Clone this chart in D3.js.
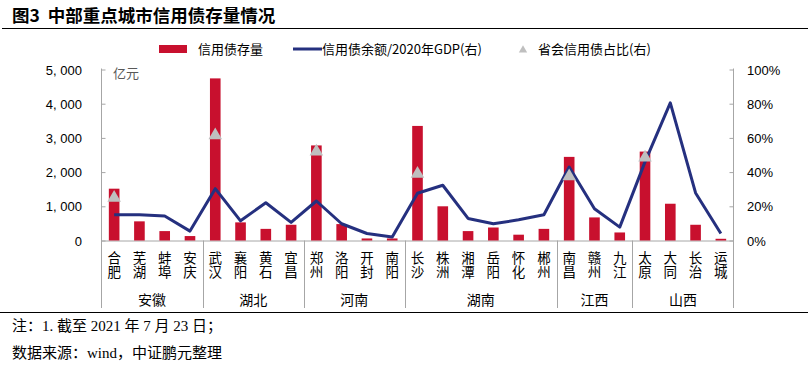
<!DOCTYPE html>
<html><head><meta charset="utf-8">
<script src="https://cdn.jsdelivr.net/npm/d3@7"></script>
<style>
body{margin:0;background:#fff;}
svg{display:block;}
</style></head>
<body>
<svg id="c" width="809" height="369"></svg>
<script>
const cities = ["合肥","芜湖","蚌埠","安庆","武汉","襄阳","黄石","宜昌","郑州","洛阳","开封","南阳","长沙","株洲","湘潭","岳阳","怀化","郴州","南昌","赣州","九江","太原","大同","长治","运城"];
const provinces = ["安徽","湖北","河南","湖南","江西","山西"];
const provinceSizes = [4,4,4,6,3,4];
const creditStock = [1515,560,275,130,4740,530,340,460,2780,480,60,60,3350,1000,275,380,170,340,2445,675,235,2600,1075,460,50];
const ratioToGDP = [0.150,0.150,0.143,0.055,0.303,0.115,0.221,0.106,0.231,0.098,0.041,0.020,0.276,0.323,0.129,0.098,0.121,0.151,0.430,0.186,0.078,0.460,0.805,0.278,0.041];
const capitalShare = [0.25,null,null,null,0.615,null,null,null,0.52,null,null,null,0.39,null,null,null,null,null,0.375,null,null,0.485,null,null,null];
const leftTicks = [0,1000,2000,3000,4000,5000];
const rightTicks = [0,0.2,0.4,0.6,0.8,1.0];

const svg = d3.select("#c");
const L = 101.5, R = 733.5, T = 69.5, B = 240.5;
const cjk = "'Noto Sans CJK SC', sans-serif";
const num = "'Liberation Sans', Arial, sans-serif";

// title
svg.append("text").attr("x",12).attr("y",22).attr("font-family",cjk).attr("font-weight","bold")
  .attr("font-size",17.5).attr("fill","#000").style("white-space","pre").text("图3  中部重点城市信用债存量情况");
svg.append("line").attr("x1",2).attr("x2",808).attr("y1",28.5).attr("y2",28.5).attr("stroke","#000").attr("stroke-width",1);
svg.append("line").attr("x1",0).attr("x2",808).attr("y1",312.5).attr("y2",312.5).attr("stroke","#000").attr("stroke-width",1);

const x = d3.scaleBand().domain(cities).range([L,R]).paddingInner(0.58).paddingOuter(0.29);
const y = d3.scaleLinear().domain([0,5000]).range([B,T]);
const y2 = d3.scaleLinear().domain([0,1]).range([B,T]);
const cx = c => x(c) + x.bandwidth()/2;

// axes
const axisColor = "#a6a6a6";
const gl = svg.append("g").attr("transform",`translate(${L},0)`)
  .call(d3.axisRight(y).tickValues(leftTicks).tickSize(4).tickFormat(""));
gl.select(".domain").remove();
gl.selectAll("line").attr("stroke",axisColor);
svg.append("line").attr("x1",L).attr("x2",L).attr("y1",T-1).attr("y2",308).attr("stroke",axisColor);
leftTicks.forEach(t=>{
  svg.append("text").attr("x",82).attr("y",y(t)+5).attr("text-anchor","end").style("white-space","pre")
    .attr("font-family",num).attr("font-size",13).attr("fill","#000").text(d3.format(",")(t).replace(",", ", "));
});
const gr = svg.append("g").attr("transform",`translate(${R},0)`)
  .call(d3.axisLeft(y2).tickValues(rightTicks).tickSize(4).tickFormat(""));
gr.select(".domain").remove();
gr.selectAll("line").attr("stroke",axisColor);
svg.append("line").attr("x1",R).attr("x2",R).attr("y1",T-1).attr("y2",308).attr("stroke",axisColor);
rightTicks.forEach(t=>{
  svg.append("text").attr("x",747).attr("y",y2(t)+5).attr("text-anchor","start")
    .attr("font-family",num).attr("font-size",13).attr("fill","#000").text(d3.format(".0%")(t));
});
svg.append("line").attr("x1",L).attr("x2",R).attr("y1",B+0.5).attr("y2",B+0.5).attr("stroke",axisColor);

svg.append("text").attr("x",113).attr("y",78).attr("font-family",cjk).attr("font-size",13).attr("fill","#595959").text("亿元");

// bars
svg.append("g").selectAll("rect").data(cities).join("rect")
  .attr("x",c=>x(c)).attr("width",x.bandwidth())
  .attr("y",(c,i)=>y(creditStock[i])).attr("height",(c,i)=>B-y(creditStock[i]))
  .attr("fill","#c8102e");

// line
const line = d3.line().x((d,i)=>cx(cities[i])).y(d=>y2(d));
svg.append("path").datum(ratioToGDP).attr("d",line).attr("fill","none")
  .attr("stroke","#25307f").attr("stroke-width",3).attr("stroke-linejoin","round");

// triangles
const tri = d3.symbol().type(d3.symbolTriangle).size(80);
svg.append("g").selectAll("path").data(cities.map((c,i)=>({c,v:capitalShare[i]})).filter(d=>d.v!=null)).join("path")
  .attr("d",tri).attr("transform",d=>`translate(${cx(d.c)},${y2(d.v)})`).attr("fill","#bfbfbf");

// city labels (vertical text)
svg.append("g").selectAll("text").data(cities).join("text")
  .attr("x",c=>cx(c)).attr("y",251.5)
  .style("writing-mode","vertical-rl").style("text-orientation","upright")
  .attr("font-family",cjk).attr("font-size",13.5).attr("fill","#000")
  .text(c=>c);

// province groups
let start = 0;
provinces.forEach((p,gi)=>{
  const n = provinceSizes[gi];
  const x0 = L + x.step()*start, x1 = L + x.step()*(start+n);
  svg.append("text").attr("x",(x0+x1)/2).attr("y",305).attr("text-anchor","middle")
    .attr("font-family",cjk).attr("font-size",14).attr("fill","#000").text(p);
  if (gi < provinces.length-1) {
    svg.append("line").attr("x1",Math.round(x1)+0.5).attr("x2",Math.round(x1)+0.5).attr("y1",B).attr("y2",308).attr("stroke",axisColor);
  }
  start += n;
});

// legend
const lg = svg.append("g").attr("font-family",cjk).attr("font-size",13).attr("fill","#000");
lg.append("rect").attr("x",159).attr("y",45).attr("width",28).attr("height",8).attr("fill","#c8102e");
lg.append("text").attr("x",198).attr("y",54).text("信用债存量");
lg.append("line").attr("x1",293).attr("x2",322).attr("y1",49).attr("y2",49).attr("stroke","#25307f").attr("stroke-width",3);
lg.append("text").attr("x",322).attr("y",54).text("信用债余额/2020年GDP(右)");
lg.append("path").attr("d",d3.symbol().type(d3.symbolTriangle).size(30)).attr("transform","translate(523,50)").attr("fill","#bfbfbf");
lg.append("text").attr("x",538).attr("y",54).text("省会信用债占比(右)");

// notes
const serif = "'Liberation Serif', 'Noto Sans CJK SC', serif";
svg.append("text").attr("x",12).attr("y",331).attr("font-family",serif).attr("font-size",15).attr("fill","#000").text("注：1. 截至 2021 年 7 月 23 日；");
svg.append("text").attr("x",12).attr("y",358).attr("font-family",serif).attr("font-size",15).attr("fill","#000").text("数据来源：wind，中证鹏元整理");
</script>
</body></html>
